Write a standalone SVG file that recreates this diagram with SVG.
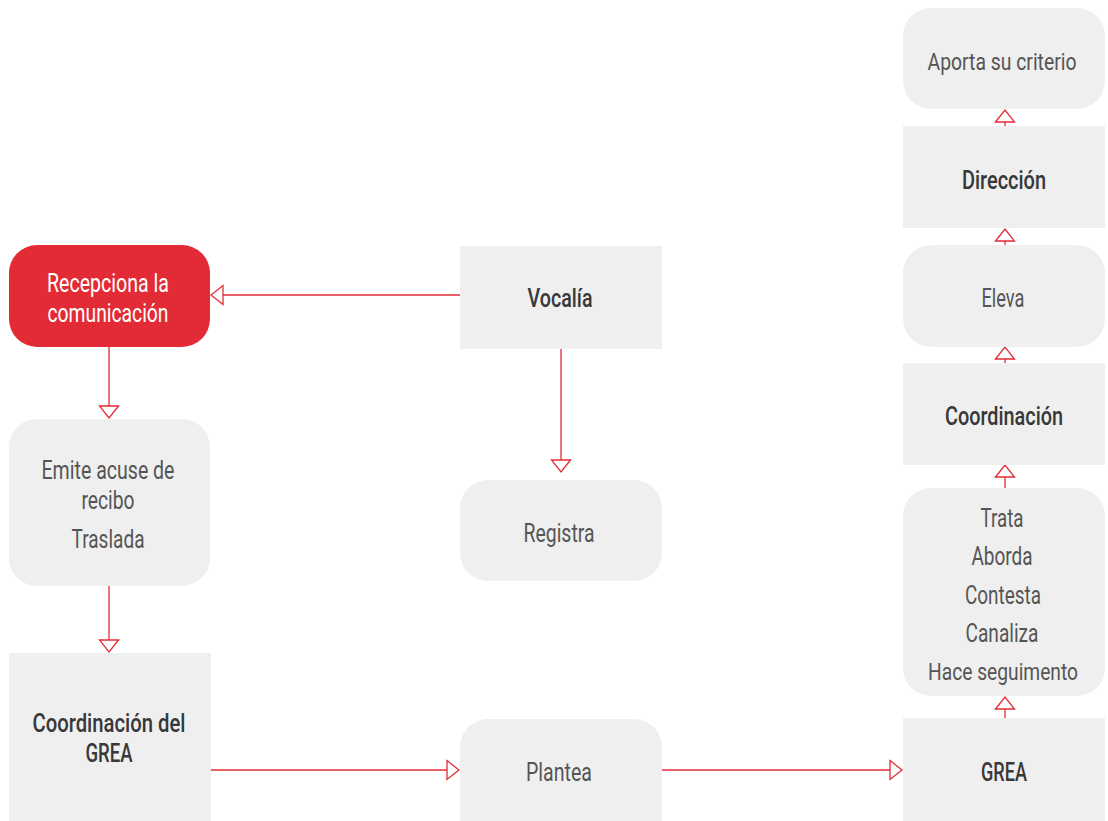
<svg xmlns="http://www.w3.org/2000/svg" width="1108" height="821" viewBox="0 0 1108 821">
  <defs>
    <style>
      .box { fill: #efefef; }
      .hot { fill: #e32b36; }
      .t { font-family: "Roboto", "Liberation Sans", sans-serif; font-weight: 400; font-size: 26px; fill: #555555; text-anchor: middle; }
      .s { font-size: 23px; }
      .b { fill: #383838; font-weight: 500; }
      .w { fill: #ffffff; }
      .link { stroke: #e32b36; stroke-width: 1.3; fill: none; marker-end: url(#tri); }
    </style>
    <marker id="tri" markerUnits="userSpaceOnUse" markerWidth="20" markerHeight="22" viewBox="-1 -11 14 22" refX="12" refY="0" orient="auto">
      <path d="M0,-9.5 L12,0 L0,9.5 Z" fill="#ffffff" stroke="#e32b36" stroke-width="1.3"/>
    </marker>
  </defs>

  <g id="connectors">
    <path class="link" d="M460,295 H211"/>
    <path class="link" d="M109,347 V418"/>
    <path class="link" d="M109,586 V652"/>
    <path class="link" d="M561,349 V472"/>
    <path class="link" d="M211,770 H459"/>
    <path class="link" d="M662,770 H902"/>
    <path class="link" d="M1005,718 V697"/>
    <path class="link" d="M1005,488 V465"/>
    <path class="link" d="M1005,363 V347"/>
    <path class="link" d="M1005,245 V229"/>
    <path class="link" d="M1005,126 V110"/>
  </g>

  <g id="recepciona">
    <rect class="hot" x="9" y="245" width="201" height="102" rx="28"/>
    <text class="t w" x="108" y="292" textLength="122" lengthAdjust="spacingAndGlyphs">Recepciona la</text>
    <text class="t w" x="108" y="322" textLength="121" lengthAdjust="spacingAndGlyphs">comunicación</text>
  </g>
  <g id="vocalia">
    <rect class="box" x="460" y="246" width="202" height="103"/>
    <text class="t b" x="560" y="307" textLength="65" lengthAdjust="spacingAndGlyphs">Vocalía</text>
  </g>
  <g id="emite">
    <rect class="box" x="9" y="419" width="201" height="167" rx="28"/>
    <text class="t" x="108" y="479" textLength="133" lengthAdjust="spacingAndGlyphs">Emite acuse de</text>
    <text class="t" x="108" y="509" textLength="53" lengthAdjust="spacingAndGlyphs">recibo</text>
    <text class="t" x="108" y="548" textLength="73" lengthAdjust="spacingAndGlyphs">Traslada</text>
  </g>
  <g id="registra">
    <rect class="box" x="460" y="480" width="202" height="101" rx="28"/>
    <text class="t" x="559" y="542" textLength="71" lengthAdjust="spacingAndGlyphs">Registra</text>
  </g>
  <g id="coordinacion-grea">
    <rect class="box" x="9" y="653" width="202" height="168"/>
    <text class="t b" x="109" y="732" textLength="153" lengthAdjust="spacingAndGlyphs">Coordinación del</text>
    <text class="t b" x="109" y="762" textLength="47" lengthAdjust="spacingAndGlyphs">GREA</text>
  </g>
  <g id="plantea">
    <rect class="box" x="460" y="719" width="202" height="130" rx="28"/>
    <text class="t" x="559" y="781" textLength="66" lengthAdjust="spacingAndGlyphs">Plantea</text>
  </g>
  <g id="grea">
    <rect class="box" x="903" y="718" width="202" height="103"/>
    <text class="t b" x="1004" y="781" textLength="46" lengthAdjust="spacingAndGlyphs">GREA</text>
  </g>
  <g id="trata">
    <rect class="box" x="903" y="488" width="202" height="208" rx="28"/>
    <text class="t" x="1002" y="527" textLength="43" lengthAdjust="spacingAndGlyphs">Trata</text>
    <text class="t" x="1002" y="565" textLength="61" lengthAdjust="spacingAndGlyphs">Aborda</text>
    <text class="t" x="1003" y="604" textLength="76" lengthAdjust="spacingAndGlyphs">Contesta</text>
    <text class="t" x="1002" y="642" textLength="73" lengthAdjust="spacingAndGlyphs">Canaliza</text>
    <text class="t s" x="1003" y="680" textLength="150" lengthAdjust="spacingAndGlyphs">Hace seguimento</text>
  </g>
  <g id="coordinacion">
    <rect class="box" x="903" y="363" width="202" height="102"/>
    <text class="t b" x="1004" y="425" textLength="118" lengthAdjust="spacingAndGlyphs">Coordinación</text>
  </g>
  <g id="eleva">
    <rect class="box" x="903" y="245" width="202" height="102" rx="28"/>
    <text class="t" x="1003" y="307" textLength="43" lengthAdjust="spacingAndGlyphs">Eleva</text>
  </g>
  <g id="direccion">
    <rect class="box" x="903" y="126" width="202" height="102"/>
    <text class="t b" x="1004" y="189" textLength="84" lengthAdjust="spacingAndGlyphs">Dirección</text>
  </g>
  <g id="aporta">
    <rect class="box" x="903" y="8" width="202" height="101" rx="28"/>
    <text class="t s" x="1002" y="70" textLength="149" lengthAdjust="spacingAndGlyphs">Aporta su criterio</text>
  </g>
</svg>
